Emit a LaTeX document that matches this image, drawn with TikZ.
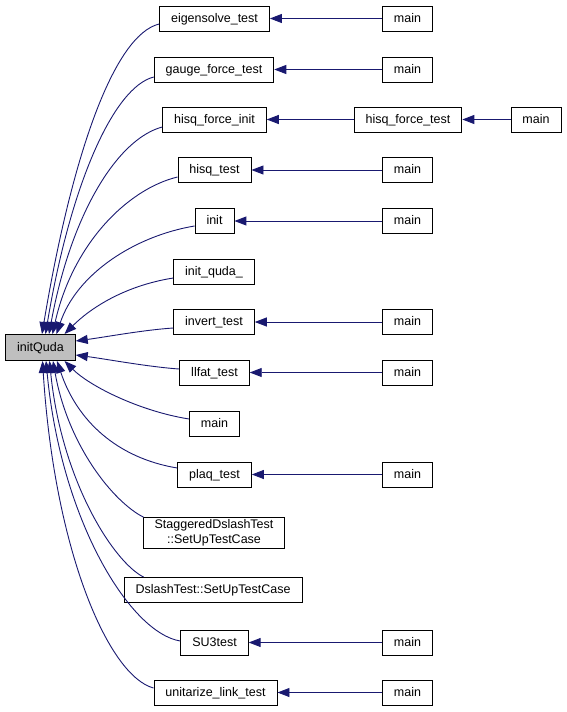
\documentclass[tikz,border=0pt]{standalone}
\usepackage{fontspec}
\setmainfont{Liberation Sans}
\usetikzlibrary{arrows.meta}
\definecolor{edgeblue}{HTML}{191970}
\definecolor{nodegray}{HTML}{BFBFBF}
\begin{document}
\begin{tikzpicture}[x=1pt,y=-1pt,
  fnbase/.style={draw=black, line width=0.9pt, fill=white, font=\fontsize{12.5}{15}\selectfont,
    inner xsep=11.5pt, inner ysep=2pt, minimum height=25pt},
  fn/.style={fnbase, text height=10pt, text depth=3pt},
  fntwo/.style={fnbase, align=center},
  focus/.style={fn, fill=nodegray, minimum height=26pt},
  call/.style={draw=edgeblue, line width=0.9pt, -{Triangle[length=12pt,width=9pt]}}]
\useasboundingbox (0,0) rectangle (567,712);
% focus node
\node[focus] (iq) at (40.5,347.5) {initQuda};
% column 2
\node[fn] (eig) at (214.5,18.5) {eigensolve\_test};
\node[fn] (gft) at (214,69.5) {gauge\_force\_test};
\node[fn] (hfi) at (214.5,119.5) {hisq\_force\_init};
\node[fn] (hst) at (214.5,170) {hisq\_test};
\node[fn] (ini) at (214.5,221) {init};
\node[fn] (iqu) at (214,271.5) {init\_quda\_};
\node[fn] (inv) at (214,322) {invert\_test};
\node[fn] (llf) at (214.5,372.5) {llfat\_test};
\node[fn] (mn)  at (214.5,424) {main};
\node[fn] (plq) at (214.5,474.5) {plaq\_test};
\node[fntwo] (sds) at (214,533) {StaggeredDslashTest\\::SetUpTestCase};
\node[fn] (dst) at (213,590) {DslashTest::SetUpTestCase};
\node[fn] (su3) at (214.5,642.5) {SU3test};
\node[fn] (ult) at (215.5,692.5) {unitarize\_link\_test};
% column 3
\node[fn] (m1) at (407.5,18.5) {main};
\node[fn] (m2) at (407.5,69.5) {main};
\node[fn] (hft) at (408,119.5) {hisq\_force\_test};
\node[fn] (m3) at (536,119.5) {main};
\node[fn] (m4) at (407.5,170) {main};
\node[fn] (m5) at (407.5,221) {main};
\node[fn] (m6) at (407.5,322) {main};
\node[fn] (m7) at (407.5,372.5) {main};
\node[fn] (m8) at (407.5,474.5) {main};
\node[fn] (m9) at (407.5,642.5) {main};
\node[fn] (m10) at (407.5,692.5) {main};
% horizontal calls
\draw[call] (m1) -- (eig);
\draw[call] (m2) -- (gft);
\draw[call] (hft) -- (hfi);
\draw[call] (m3) -- (hft);
\draw[call] (m4) -- (hst);
\draw[call] (m5) -- (ini);
\draw[call] (m6) -- (inv);
\draw[call] (m7) -- (llf);
\draw[call] (m8) -- (plq);
\draw[call] (m9) -- (su3);
\draw[call] (m10) -- (ult);
% calls into initQuda (top)
\draw[call] ([yshift=-5.5pt]eig.west) .. controls +(-45,11) and +(30,-180) .. ([xshift=1.5pt]iq.north);
\draw[call] ([yshift=-7.5pt]gft.west) .. controls +(-40,10) and +(25,-150) .. ([xshift=5pt]iq.north);
\draw[call] ([yshift=-7.5pt]hfi.west) .. controls +(-45,12) and +(22,-120) .. ([xshift=8.5pt]iq.north);
\draw[call] ([yshift=-7pt]hst.west) .. controls +(-50,12) and +(20,-90) .. ([xshift=12pt]iq.north);
\draw[call] ([yshift=-5pt]ini.west) .. controls +(-60,10) and +(20,-60) .. ([xshift=16pt]iq.north);
\draw[call] ([yshift=-6.5pt]iqu.west) .. controls +(-50,8) and +(25,-25) .. ([xshift=24pt]iq.north);
% calls into initQuda (right)
\draw[call] ([yshift=-6pt]inv.west) .. controls +(-30,2) and +(30,-4) .. ([yshift=6.5pt]iq.east);
\draw[call] ([yshift=3.5pt]llf.west) .. controls +(-30,-2) and +(30,4) .. ([yshift=-7.5pt]iq.east);
% calls into initQuda (bottom)
\draw[call] ([yshift=5pt]mn.west) .. controls +(-50,-8) and +(25,25) .. ([xshift=24pt]iq.south);
\draw[call] ([yshift=6.5pt]plq.west) .. controls +(-60,-10) and +(20,60) .. ([xshift=16.5pt]iq.south);
\draw[call] ([xshift=1pt]sds.north west) .. controls +(-30,-15) and +(15,85) .. ([xshift=12.5pt]iq.south);
\draw[call] ([xshift=20pt]dst.north west) .. controls +(-30,-15) and +(12,120) .. ([xshift=9pt]iq.south);
\draw[call] ([yshift=1.5pt]su3.west) .. controls +(-50,-8) and +(15,160) .. ([xshift=5.5pt]iq.south);
\draw[call] ([yshift=4.5pt]ult.west) .. controls +(-45,-12) and +(12,190) .. ([xshift=2pt]iq.south);
\end{tikzpicture}
\end{document}
